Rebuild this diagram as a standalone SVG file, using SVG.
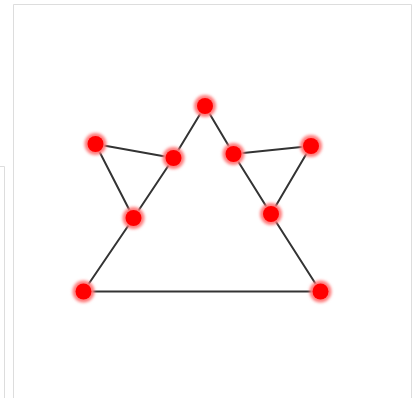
<svg xmlns="http://www.w3.org/2000/svg" width="419" height="398" viewBox="0 0 419 398">
<defs>
<filter id="glow" x="-50%" y="-50%" width="200%" height="200%">
<feGaussianBlur stdDeviation="1.8"/>
</filter>
<style>
.frame{fill:none;stroke:#dddddd;stroke-width:1}
.edge{stroke:#333333;stroke-width:2;stroke-linecap:round;fill:none}
.halo{fill:#ff7a7a;filter:url(#glow)}
.core{fill:#ff0000}
</style>
</defs>
<rect width="419" height="398" fill="#ffffff"/>
<g id="frame">
<polyline class="frame" points="0,166.5 4.5,166.5 4.5,398"/>
<polyline class="frame" points="13.5,398 13.5,4.5 411.5,4.5 411.5,398"/>
</g>
<g id="connectors">
<line class="edge" x1="205" y1="106" x2="173.5" y2="158"/>
<line class="edge" x1="205" y1="106" x2="233.5" y2="154"/>
<line class="edge" x1="95.5" y1="144" x2="173.5" y2="158"/>
<line class="edge" x1="95.5" y1="144" x2="133.5" y2="218"/>
<line class="edge" x1="173.5" y1="158" x2="133.5" y2="218"/>
<line class="edge" x1="133.5" y1="218" x2="83.5" y2="291.5"/>
<line class="edge" x1="83.5" y1="291.5" x2="320.5" y2="291.5"/>
<line class="edge" x1="320.5" y1="291.5" x2="271" y2="214"/>
<line class="edge" x1="271" y1="214" x2="233.5" y2="154"/>
<line class="edge" x1="271" y1="214" x2="311" y2="146"/>
<line class="edge" x1="311" y1="146" x2="233.5" y2="154"/>
</g>
<g id="n-top"><circle class="halo" cx="205" cy="106" r="11"/><circle class="core" cx="205" cy="106" r="8"/></g>
<g id="n-left-outer"><circle class="halo" cx="95.5" cy="144" r="11"/><circle class="core" cx="95.5" cy="144" r="8"/></g>
<g id="n-left-inner"><circle class="halo" cx="173.5" cy="158" r="11"/><circle class="core" cx="173.5" cy="158" r="8"/></g>
<g id="n-left-mid"><circle class="halo" cx="133.5" cy="218" r="11"/><circle class="core" cx="133.5" cy="218" r="8"/></g>
<g id="n-bottom-left"><circle class="halo" cx="83.5" cy="291.5" r="11"/><circle class="core" cx="83.5" cy="291.5" r="8"/></g>
<g id="n-bottom-right"><circle class="halo" cx="320.5" cy="291.5" r="11"/><circle class="core" cx="320.5" cy="291.5" r="8"/></g>
<g id="n-right-mid"><circle class="halo" cx="271" cy="214" r="11"/><circle class="core" cx="271" cy="214" r="8"/></g>
<g id="n-right-inner"><circle class="halo" cx="233.5" cy="154" r="11"/><circle class="core" cx="233.5" cy="154" r="8"/></g>
<g id="n-right-outer"><circle class="halo" cx="311" cy="146" r="11"/><circle class="core" cx="311" cy="146" r="8"/></g>
</svg>
